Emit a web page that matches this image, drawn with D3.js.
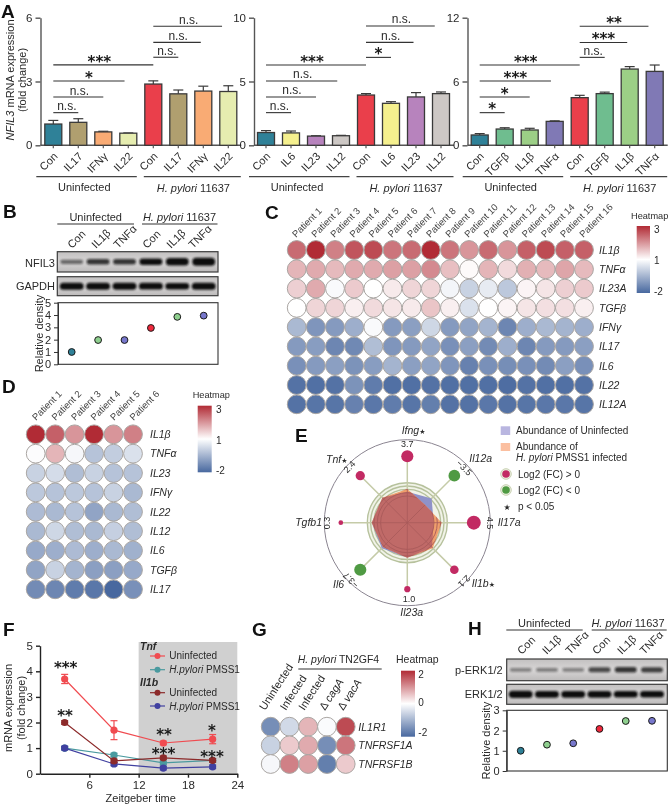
<!DOCTYPE html>
<html><head><meta charset="utf-8">
<script src="https://cdn.jsdelivr.net/npm/d3@7/dist/d3.min.js"></script>
<style>
html,body{margin:0;padding:0;background:#fff}
svg{display:block;filter:blur(.3px)}
text{font-family:"Liberation Sans",Arial,sans-serif;fill:#2a2a2a}
</style></head><body><svg id="c" width="669" height="806"></svg>
<script>
// ---------- Panel A data ----------
const a1Categories=["Con","IL17","IFNγ","IL22","Con","IL17","IFNγ","IL22"];
const a1Values=[1.0,1.08,0.63,0.57,2.88,2.42,2.55,2.53];
const a1Upper=[1.17,1.25,0.66,0.58,3.03,2.6,2.78,2.8];
const a1Sig=["n.s.","n.s.","*","***","n.s.","n.s.","n.s."];
const a1SigY=[1.535,2.27,3.02,3.78,4.14,4.84,5.6];
const a2Categories=["Con","IL6","IL23","IL12","Con","IL6","IL23","IL12"];
const a2Values=[1.0,0.97,0.72,0.75,3.94,3.29,3.79,4.05];
const a2Upper=[1.15,1.12,0.75,0.78,4.05,3.42,4.13,4.18];
const a2Sig=["n.s.","n.s.","n.s.","***","*","n.s.","n.s."];
const a2SigY=[2.56,3.79,5.04,6.29,6.89,8.07,9.35];
const a3Categories=["Con","TGFβ","IL1β","TNFα","Con","TGFβ","IL1β","TNFα"];
const a3Values=[0.97,1.53,1.44,2.25,4.48,4.86,7.17,6.95];
const a3Upper=[1.1,1.65,1.6,2.3,4.7,5.0,7.4,7.55];
const a3Sig=["*","*","***","***","n.s.","***","**"];
const a3SigY=[3.07,4.54,6.04,7.55,8.27,9.67,11.2];
const sigStart=[0,0,0,0,4,4,4];
const sigEnd=[1,2,2.85,4,5,5.9,6.75];
// ---------- Panels B / H data ----------
const blotLanes=["Con","IL1β","TNFα","Con","IL1β","TNFα"];
const bNfil3Bands=[0.25,0.5,0.5,0.7,0.9,1];
const bGapdhBands=[0.8,0.8,0.78,0.75,0.72,0.8];
const bDensity=[1,1.97,1.97,2.95,3.85,3.95];
const hPerkBands=[0.12,0.15,0.12,0.4,0.5,0.45];
const hErkBands=[0.85,0.75,0.75,0.75,0.72,0.72];
const hDensity=[1,1.3,1.37,2.08,2.47,2.48];
// ---------- Panel C data ----------
const cPatients=d3.range(1,17).map(i=>"Patient "+i);
const cGenes=["IL1β","TNFα","IL23A","TGFβ","IFNγ","IL17","IL6","IL22","IL12A"];
const cMatrix=[
[2.4,3,2.2,2.6,2.7,2.3,2.4,3,2.3,2,2.4,2,2.5,2.7,2.5,2.5],
[1.7,1.8,1.65,1.8,1.8,1.9,1.9,2.1,1.6,1.05,1.7,1.35,1.75,1.65,1.85,1.65],
[1.45,1.8,0.9,1.5,1,1.2,1.4,1.4,0.8,0.1,0.6,-0.1,1.1,1.25,1.45,1.5],
[1,1.4,1.4,1.15,1.35,1.25,1.2,1.55,1.15,0.4,1,1.1,1.25,1.3,1.3,1.15],
[-0.4,-1.1,-1,-0.6,0.9,-1,-0.9,0.2,-1,-0.8,-0.5,-1.4,-0.6,-0.4,-0.5,-0.6],
[-1,-0.95,-1.4,-1.35,-0.3,-1.1,-1,-0.8,-1.2,-0.9,-1.3,-0.6,-1.4,-1,-1,-0.9],
[-1.2,-1,-0.9,-1.15,-0.95,-0.5,-0.9,-0.8,-1.1,-1.5,-1.2,-1.25,-1.2,-1.3,-0.9,-1.2],
[-1.8,-1.85,-1.8,-1.15,-1.6,-1.85,-1.85,-1.8,-1.85,-1.85,-1.85,-1.9,-1.8,-1.85,-1.85,-1.8],
[-1.8,-1.75,-1.75,-1.5,-1.7,-1.6,-1.75,-1.55,-1.8,-1.8,-1.7,-1.8,-1.75,-1.7,-1.7,-1.75]];
// ---------- Panel D data ----------
const dPatients=d3.range(1,7).map(i=>"Patient "+i);
const dGenes=["IL1β","TNFα","IL23","IFNγ","IL22","IL12","IL6","TGFβ","IL17"];
const dMatrix=[
[3,2.5,2,3,2,2.2],[0.95,1.7,0.85,-0.2,0,0.4],[0.1,0.3,-0.3,0.1,-0.2,-0.2],
[-0.1,-0.2,-0.1,-0.2,0.1,-0.4],[-0.35,-0.4,-0.2,-0.8,-0.4,-0.3],[-0.4,0.2,-0.3,-0.4,0.05,-0.3],
[-0.7,-0.6,-0.35,-0.6,-0.4,-0.55],[-0.8,0.1,-0.5,-0.9,-0.9,-0.7],[-1.3,-1.4,-1.6,-1.7,-2,-1.2]];
// ---------- Panel E data ----------
const eGenes=["Ifng","Il12a","Il17a","Il1b","Il23a","Il6","Tgfb1","Tnf"];
const eFoldChange=[3.7,-3.5,4.5,2.1,1.0,-3.7,0.3,2.4];
const eUninfected=[7.75,8.6,6.6,8.7,8.75,9,8.9,8.8];
const eInfected=[8.4,6.3,8.6,9,8.75,8.6,8.9,8.8];
// ---------- Panel F data ----------
const fHours=[3,9,15,21];
const fTnfUninf=[3.7,1.7,1.2,1.35];
const fTnfUninfErr=[0.18,0.37,0.07,0.18];
const fTnfInf=[1.0,0.73,0.42,0.52];
const fIl1bUninf=[2.0,0.5,0.62,0.52];
const fIl1bInf=[1.0,0.38,0.22,0.27];
// ---------- Panel G data ----------
const gGenes=["IL1R1","TNFRSF1A","TNFRSF1B"];
const gMatrix=[[-1.5,-0.5,0.7,-0.05,1.7],[-0.6,0.5,0.8,-1.5,1.3],[-0.1,1.2,0.9,-1.7,0.5]];

const svg=d3.select("#c");
const defs=svg.append("defs");
const TXT="#2a2a2a";
function txt(p,x,y,s,o={}){
  const t=p.append("text").attr("transform",`translate(${x},${y})`+(o.r?` rotate(${o.r})`:""))
   .attr("font-size",o.fs||11).attr("text-anchor",o.a||"start");
  if(o.fill)t.style("fill",o.fill);
  if(o.w)t.attr("font-weight",o.w);
  const parts=Array.isArray(s)?s:[[s,o.i]];
  parts.forEach(([v,i])=>t.append("tspan").text(v).attr("font-style",i?"italic":"normal"));
  return t;
}
function letter(s,x,y){txt(svg,x,y,s,{fs:19,w:"bold",fill:"#111"});}
function stars(p,x,cy,s,fs=15){txt(p,x,cy+0.52*fs,s,{fs,a:"middle",fill:"#1a1a1a",w:"bold"}).style("font-family","DejaVu Sans");}
const HP=[["H. pylori",true],[" 11637",false]];
function hline(x1,x2,y,c="#333",w=1.2){svg.append("line").attr("x1",x1).attr("x2",x2).attr("y1",y).attr("y2",y).attr("stroke",c).attr("stroke-width",w);}

// ---------- A ----------
letter("A",1,18);
const teal="#2f8198",khaki="#b09f6f",orange="#f9ab74",pale="#e6edb0",red="#ea3f4b",yellow="#f5f08e",purp="#b783bd",grey="#cdc8c5",gr1="#6fbd8f",gr2="#9ccf86",vio="#8079b5";
function panelA(cfg){
  const g=svg.append("g");
  const y=d3.scaleLinear().domain([0,cfg.max]).range([145.3,17.7]);
  const x=d3.scaleLinear().domain([0,7]).range([cfg.x0,cfg.x0+175]);
  const barW=17;
  g.append("g").attr("transform",`translate(${cfg.axisX},0)`)
   .call(d3.axisLeft(y).tickValues([0,cfg.max/2,cfg.max]).tickFormat(d3.format("d")).tickSize(5).tickSizeOuter(0))
   .call(a=>{a.selectAll("path,line").attr("stroke","#555").attr("stroke-width",1.4);
     a.selectAll("text").attr("font-size",11.5).attr("font-family",null).style("fill",TXT);});
  g.append("line").attr("x1",cfg.axisX).attr("x2",cfg.x0+188).attr("y1",y(0)).attr("y2",y(0)).attr("stroke","#555").attr("stroke-width",1.4);
  cfg.vals.forEach((v,i)=>{
    g.append("line").attr("x1",x(i)).attr("x2",x(i)).attr("y1",y(v)).attr("y2",y(cfg.up[i])).attr("stroke","#3a3a3a").attr("stroke-width",1.2);
    g.append("line").attr("x1",x(i)-5).attr("x2",x(i)+5).attr("y1",y(cfg.up[i])).attr("y2",y(cfg.up[i])).attr("stroke","#3a3a3a").attr("stroke-width",1.2);
    g.append("rect").attr("x",x(i)-barW/2).attr("width",barW).attr("y",y(v)).attr("height",y(0)-y(v)).attr("fill",cfg.colors[i]).attr("stroke","#3a3a3a").attr("stroke-width",1.3);
    g.append("line").attr("x1",x(i)).attr("x2",x(i)).attr("y1",y(0)).attr("y2",y(0)+3).attr("stroke","#555").attr("stroke-width",1.2);
    txt(g,x(i)+5,157,cfg.cats[i],{fs:11,a:"end",r:-45});
  });
  cfg.sig.forEach((s,i)=>{
    const x1=x(sigStart[i]),x2=x(sigEnd[i]),yy=y(cfg.sigY[i]);
    g.append("line").attr("x1",x1).attr("x2",x2).attr("y1",yy).attr("y2",yy).attr("stroke","#333").attr("stroke-width",1.1);
    if(s==="n.s.")txt(g,(x1+x2)/2+1,yy-2.5,s,{fs:12,a:"middle"});
    else stars(g,(x1+x2)/2-(s==="***"&&sigStart[i]==0&&sigEnd[i]==4?4:0),yy-6,s);
  });
  hline(cfg.x0-17,cfg.x0+83.5,176.7,"#444");hline(cfg.x0+90.5,cfg.x0+187.5,176.7,"#444");
  txt(svg,cfg.x0+31,190.7,"Uninfected",{fs:11,a:"middle"});
  txt(svg,cfg.x0+140,191.5,HP,{fs:11,a:"middle"});
}
panelA({max:6,axisX:40.5,x0:53.3,cats:a1Categories,vals:a1Values,up:a1Upper,sig:a1Sig,sigY:a1SigY,colors:[teal,khaki,orange,pale,red,khaki,orange,pale]});
panelA({max:10,axisX:254,x0:266,cats:a2Categories,vals:a2Values,up:a2Upper,sig:a2Sig,sigY:a2SigY,colors:[teal,yellow,purp,grey,red,yellow,purp,grey]});
panelA({max:12,axisX:467.5,x0:479.7,cats:a3Categories,vals:a3Values,up:a3Upper,sig:a3Sig,sigY:a3SigY,colors:[teal,gr1,gr2,vio,red,gr1,gr2,vio]});
txt(svg,13.5,80,[["NFIL3",true],[" mRNA expression",false]],{fs:11,a:"middle",r:-90});
txt(svg,25.5,80,"(fold change)",{fs:11,a:"middle",r:-90});

// ---------- Blots ----------
const bf=defs.append("filter").attr("id","bandBlur").attr("x","-30%").attr("y","-80%").attr("width","160%").attr("height","260%");
bf.append("feGaussianBlur").attr("stdDeviation","0.8");
const bgGrad=defs.append("linearGradient").attr("id","blotBg").attr("x1",0).attr("x2",0).attr("y1",0).attr("y2",1);
bgGrad.append("stop").attr("offset",0).attr("stop-color","#c2c0c0");
bgGrad.append("stop").attr("offset",.5).attr("stop-color","#d8d6d6");
bgGrad.append("stop").attr("offset",1).attr("stop-color","#bcbaba");
function blot(x,top,bottom,left,right,bands,w){
  svg.append("rect").attr("x",left).attr("y",top).attr("width",right-left).attr("height",bottom-top).attr("fill","url(#blotBg)").attr("stroke","#3c3c3c").attr("stroke-width",1.2);
  const cy=(top+bottom)/2;
  const h=d3.scaleLinear().domain([0,1]).range([3,8]);
  const op=d3.scaleLinear().domain([0,1]).range([0.3,1.3]).clamp(false);
  bands.forEach((b,i)=>{
    svg.append("rect").attr("x",x(i)-w/2).attr("width",w).attr("y",cy-h(b)/2).attr("height",h(b)).attr("rx",h(b)/2)
      .attr("fill","#111").attr("opacity",Math.min(1,op(b))).attr("filter","url(#bandBlur)");
  });
}
function densityPlot(o){
  const x=d3.scaleLinear().domain([0,5]).range(o.xr);
  const y=d3.scaleLinear().domain([0,o.max]).range(o.yr);
  const g=svg.append("g");
  g.append("rect").attr("x",o.xl).attr("y",o.yr[1]).attr("width",o.xe-o.xl).attr("height",o.yr[0]-o.yr[1]).attr("fill","#fff").attr("stroke","#333").attr("stroke-width",1.1);
  g.append("g").attr("transform",`translate(${o.xl},0)`).call(d3.axisLeft(y).ticks(o.max).tickFormat(d3.format("d")).tickSize(4).tickSizeOuter(0))
   .call(a=>{a.select("path").attr("stroke","#333");a.selectAll("line").attr("stroke","#333");a.selectAll("text").attr("font-size",11).attr("font-family",null).style("fill",TXT);});
  const cols=[teal,"#8fd08f","#7777cc","#f0283c","#8fd08f","#7777cc"];
  o.vals.forEach((v,i)=>g.append("circle").attr("cx",x(i)).attr("cy",y(v)).attr("r",3.4).attr("fill",cols[i]).attr("stroke","#1a1a1a").attr("stroke-width",1));
  txt(g,o.labX,(o.yr[0]+o.yr[1])/2,"Relative density",{fs:11,a:"middle",r:-90});
  return x;
}
// B
letter("B",3,217.7);
const bx=d3.scaleLinear().domain([0,5]).range([71.7,203.7]);
txt(svg,95.7,220.5,"Uninfected",{fs:11,a:"middle"});
txt(svg,179.5,220.5,HP,{fs:11,a:"middle"});
hline(57.3,134,224);hline(142,217.5,224);
[72,96,118,147,171,193].forEach((xx,i)=>txt(svg,xx,249,blotLanes[i],{fs:11,r:-45}));
blot(bx,251.7,272,57.3,218,bNfil3Bands,23);
blot(bx,276.7,295.7,57.3,218,bGapdhBands,24);
txt(svg,55,266.7,"NFIL3",{fs:11,a:"end"});
txt(svg,55,290,"GAPDH",{fs:11,a:"end"});
densityPlot({xr:[71.7,203.7],yr:[364.3,302.7],max:5,vals:bDensity,xl:58,xe:218,labX:43});

// ---------- Heatmaps ----------
const heatColor=d3.scaleLinear().domain([-2,1,3]).range(["#48689f","#ffffff","#b12b35"]).interpolate(d3.interpolateRgb);
const heatColorG=d3.scaleLinear().domain([-2,0,2]).range(["#48689f","#ffffff","#b12b35"]).interpolate(d3.interpolateRgb);
const lg=defs.append("linearGradient").attr("id","hmGrad").attr("x1",0).attr("x2",0).attr("y1",0).attr("y2",1);
lg.append("stop").attr("offset",0).attr("stop-color","#b12b35");
lg.append("stop").attr("offset",.5).attr("stop-color","#ffffff");
lg.append("stop").attr("offset",1).attr("stop-color","#48689f");
function heat(o){
  const x=d3.scaleLinear().domain([0,o.cols.length-1]).range(o.xr);
  const y=d3.scaleLinear().domain([0,o.rows.length-1]).range(o.yr);
  const g=svg.append("g");
  o.matrix.forEach((row,r)=>row.forEach((v,c)=>g.append("circle").attr("cx",x(c)).attr("cy",y(r)).attr("r",9.4).attr("fill",o.color(v)).attr("stroke","#a9a5a2").attr("stroke-width",1)));
  o.rows.forEach((s,r)=>txt(g,o.rowX,y(r)+3.8,s,{fs:10.5,i:true}));
}
function heatLegend(xl,xr,yt,yb,titleX,titleY,labs,labX,fs){
  svg.append("rect").attr("x",xl).attr("y",yt).attr("width",xr-xl).attr("height",yb-yt).attr("fill","url(#hmGrad)");
  txt(svg,titleX,titleY,"Heatmap",{fs});
  labs.forEach(([s,yy])=>txt(svg,labX,yy+3.5,s,{fs:10}));
}
// C
letter("C",265,219);
heat({cols:cPatients,rows:cGenes,matrix:cMatrix,color:heatColor,xr:[296.7,584],yr:[250,404.3],rowX:599});
cPatients.forEach((s,i)=>txt(svg,296+i*19.15,238,s,{fs:9.5,r:-45,fill:"#444"}));
heatLegend(636.7,650,226,293,631,218.5,[["3",229],["1",260.7],["-2",291]],654,9.2);
// D
letter("D",2,393);
heat({cols:dPatients,rows:dGenes,matrix:dMatrix,color:heatColor,xr:[35.7,133],yr:[434.3,589.3],rowX:150});
dPatients.forEach((s,i)=>txt(svg,36+i*19.5,421,s,{fs:9.5,r:-45,fill:"#444"}));
heatLegend(197.7,211.7,405.7,472.3,192.7,398,[["3",409],["1",440],["-2",470.7]],216,9.2);

// ---------- E ----------
letter("E",295,441.7);
(function(){
  const cx=407.3,cy=522.7;
  const r=d3.scaleLinear().domain([0,10]).range([0,40]);
  const a=d3.scalePoint().domain(eGenes).range([0,Math.PI*2*7/8]);
  const dot=d3.scaleLinear().domain([0,4.5]).range([2,6.95]);
  const g=svg.append("g").attr("transform",`translate(${cx},${cy})`);
  g.append("circle").attr("r",83).attr("fill","none").attr("stroke","#8a8490").attr("stroke-width",1);
  const pos=(ang,rad)=>[rad*Math.sin(ang),-rad*Math.cos(ang)];
  const ringVals=[10,9.17,8.33];
  g.append("circle").attr("r",r(10)).attr("fill","#f1f3e8");
  ringVals.forEach(v=>g.append("circle").attr("r",r(v)).attr("fill","none").attr("stroke","#b6c19c").attr("stroke-width",1.4));
  eGenes.forEach(n=>{const [px,py]=pos(a(n),66);g.append("line").attr("x1",0).attr("y1",0).attr("x2",px).attr("y2",py).attr("stroke","#c5cba8").attr("stroke-width",1.5);});
  const poly=vals=>vals.map((v,i)=>pos(a(eGenes[i]),r(v)).join(",")).join(" ");
  defs.append("clipPath").attr("id","infClip2").append("polygon").attr("points",poly(eInfected));
  g.append("polygon").attr("points",poly(eUninfected)).attr("fill","#8f92c9");
  g.append("polygon").attr("points",poly(eInfected)).attr("fill","#ef9f6c");
  const inter=g.append("g").attr("clip-path","url(#infClip2)");
  inter.append("polygon").attr("points",poly(eUninfected)).attr("fill","#c06a68");
  const over=g.append("g").attr("clip-path","url(#infClip2)");
  [8.33,7.5,6.67].forEach(v=>over.append("circle").attr("r",r(v)).attr("fill","none").attr("stroke","#a85a5a").attr("stroke-width",.9));
  eGenes.forEach(n=>{const [px,py]=pos(a(n),60);over.append("line").attr("x1",0).attr("y1",0).attr("x2",px).attr("y2",py).attr("stroke","#a85a5a").attr("stroke-width",.8);});
  eGenes.forEach((n,i)=>{
    const [px,py]=pos(a(n),66.5);
    g.append("circle").attr("cx",px).attr("cy",py).attr("r",dot(Math.abs(eFoldChange[i]))).attr("fill",eFoldChange[i]>0?"#c22a63":"#4f9a43");
  });
  const star=new Set(["Ifng","Il1b","Tnf"]);
  const geneLab=[[401.7,434.3,"start"],[469.3,461.7,"start"],[497.7,526,"start"],[471.7,586.7,"start"],[411.7,616,"middle"],[333,588,"start"],[322,526,"end"],[326,463,"start"]];
  eGenes.forEach((n,i)=>{
    const t=txt(svg,geneLab[i][0],geneLab[i][1],[[n,true]],{fs:10.5,a:geneLab[i][2]});
    if(star.has(n))t.append("tspan").text("★").attr("font-size",7).style("font-family","DejaVu Sans");
  });
  const fcLab=[[407.3,446.7,0],[462,470,45],[486.7,523,90],[462,579,135],[409,601.7,0],[353,578,225],[330,523,270],[351.7,469,-45]];
  eFoldChange.forEach((v,i)=>{
    txt(svg,fcLab[i][0],fcLab[i][1],d3.format(".1f")(v),{fs:9,a:"middle",r:fcLab[i][2]});
  });
  // legend
  svg.append("rect").attr("x",500.7).attr("y",426.3).attr("width",9.5).attr("height",8.7).attr("fill","#b9b6e0");
  txt(svg,516,434.3,"Abundance of Uninfected",{fs:10});
  svg.append("rect").attr("x",500.7).attr("y",443).attr("width",9.5).attr("height",8).attr("fill","#fbbfa0");
  txt(svg,516,450,"Abundance of",{fs:10});
  txt(svg,516,461.3,[["H. pylori",true],[" PMSS1 infected",false]],{fs:10});
  [[474,"#c22a63","Log2 (FC) > 0",477.7],[490,"#4f9a43","Log2 (FC) < 0",494]].forEach(([yy,c,s,b])=>{
    svg.append("circle").attr("cx",506).attr("cy",yy).attr("r",5.3).attr("fill","#eef0e2").attr("stroke","#c8d1b2").attr("stroke-width",1);
    svg.append("circle").attr("cx",506).attr("cy",yy).attr("r",3.8).attr("fill",c);
    txt(svg,518,b,s,{fs:10});
  });
  txt(svg,507,510,"★",{fs:8,a:"middle"}).style("font-family","DejaVu Sans");
  txt(svg,518,510,"p < 0.05",{fs:10});
})();

// ---------- F ----------
letter("F",3,636);
(function(){
  const x=d3.scaleLinear().domain([0,24]).range([40,237.3]);
  const y=d3.scaleLinear().domain([0,5]).range([773.7,645.7]);
  const g=svg.append("g");
  g.append("rect").attr("x",x(12)).attr("y",642).attr("width",x(24)-x(12)).attr("height",y(0)-642).attr("fill","#d0d0d0");
  const style=a=>{a.selectAll("path,line").attr("stroke","#222").attr("stroke-width",1.4);a.selectAll("text").attr("font-size",11.5).attr("font-family",null).style("fill",TXT);};
  g.append("g").attr("transform",`translate(40,0)`).call(d3.axisLeft(y).ticks(5).tickFormat(d3.format("d")).tickSize(4).tickSizeOuter(0)).call(style);
  g.append("g").attr("transform",`translate(0,${y(0)})`).call(d3.axisBottom(x).tickValues([6,12,18,24]).tickSize(4).tickSizeOuter(0)).call(style);
  const line=d3.line().x((d,i)=>x(fHours[i])).y(d=>y(d));
  const series=[[fTnfInf,"#4a9a9f"],[fIl1bInf,"#4040a0"],[fIl1bUninf,"#8c2a2a"],[fTnfUninf,"#f04b50"]];
  series.forEach(([vals,c])=>{
    g.append("path").attr("d",line(vals)).attr("fill","none").attr("stroke",c).attr("stroke-width",1.2);
    vals.forEach((v,i)=>{
      const e=vals===fTnfUninf?fTnfUninfErr[i]:0.07;
      g.append("line").attr("x1",x(fHours[i])).attr("x2",x(fHours[i])).attr("y1",y(v-e)).attr("y2",y(v+e)).attr("stroke",c).attr("stroke-width",1.2);
      [v-e,v+e].forEach(q=>g.append("line").attr("x1",x(fHours[i])-3.5).attr("x2",x(fHours[i])+3.5).attr("y1",y(q)).attr("y2",y(q)).attr("stroke",c).attr("stroke-width",1.2));
      g.append("circle").attr("cx",x(fHours[i])).attr("cy",y(v)).attr("r",3.6).attr("fill",c);
    });
  });
  [[65.7,665.5,"***"],[65,713,"**"],[164,732.5,"**"],[212,728,"*"],[163.5,751,"***"],[212,754,"***"]].forEach(([a,b,s])=>stars(g,a,b,s));
  txt(g,140,650,"Tnf",{fs:10.5,w:"bold",i:true});
  txt(g,140,686,"Il1b",{fs:10.5,w:"bold",i:true});
  const H=[["H.pylori",true],[" PMSS1",false]];
  [[656,"#f04b50","Uninfected",659],[669.7,"#4a9a9f",H,673],[692.7,"#8c2a2a","Uninfected",696],[706,"#4040a0",H,710]].forEach(([yy,c,s,b])=>{
    g.append("line").attr("x1",150).attr("x2",165).attr("y1",yy).attr("y2",yy).attr("stroke",c).attr("stroke-width",1.2);
    g.append("circle").attr("cx",157.5).attr("cy",yy).attr("r",3).attr("fill",c);
    txt(g,169.3,b,s,{fs:10});
  });
  txt(g,11.5,708,"mRNA expression",{fs:11,a:"middle",r:-90});
  txt(g,25,708,"(fold change)",{fs:11,a:"middle",r:-90});
  txt(g,140.7,801.7,"Zeitgeber time",{fs:11,a:"middle"});
})();

// ---------- G ----------
letter("G",252,636);
heat({cols:[0,1,2,3,4],rows:gGenes,matrix:gMatrix,color:heatColorG,xr:[270.7,345.7],yr:[726.7,764],rowX:358.3});
const gCols=[["Uninfected"],["Infected"],["Infected"],[["Δ ",false],["cagA",true]],[["Δ ",false],["vacA",true]]];
[265,285.7,304.3,325,343.3].forEach((xx,i)=>{
  const s=gCols[i];
  txt(svg,xx,711,s.length===1?s[0]:s,{fs:11,r:-57});
});
txt(svg,297.7,662.5,[["H. pylori",true],[" TN2GF4",false]],{fs:10.5});
hline(298.3,381.7,669);
heatLegend(401,415,670.7,736.7,396,663,[["2",674],["0",702.7],["-2",732]],418.3,10.5);

// ---------- H ----------
letter("H",468,635);
const hx=d3.scaleLinear().domain([0,5]).range([520.7,652]);
txt(svg,544.3,626.7,"Uninfected",{fs:11,a:"middle"});
txt(svg,628,626.7,HP,{fs:11,a:"middle"});
hline(506.3,582.7,630);hline(591.7,666.7,630);
[521.7,546.7,570,596.7,621.7,644.3].forEach((xx,i)=>txt(svg,xx,655,blotLanes[i],{fs:11,r:-45}));
blot(hx,659,680.7,506.7,667.3,hPerkBands,22);
blot(hx,684.3,704.3,506.7,667.3,hErkBands,24);
txt(svg,502.7,674.3,"p-ERK1/2",{fs:11,a:"end"});
txt(svg,502.7,697.7,"ERK1/2",{fs:11,a:"end"});
densityPlot({xr:[520.7,652],yr:[771,710.3],max:3,vals:hDensity,xl:506.7,xe:667.3,labX:490});
</script></body></html>
